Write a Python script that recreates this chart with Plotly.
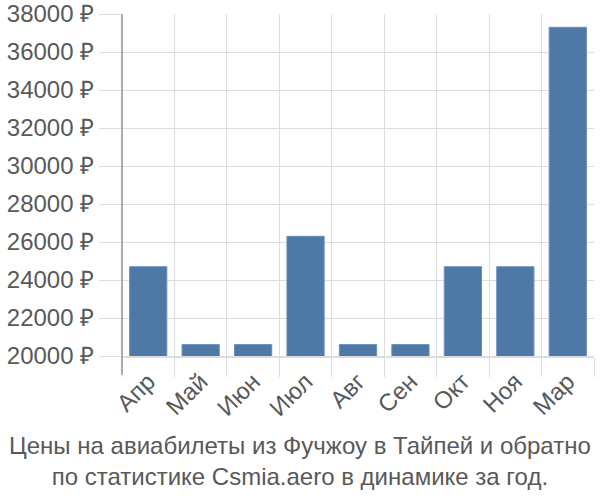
import plotly.graph_objects as go

months = ["Апр", "Май", "Июн", "Июл", "Авг", "Сен", "Окт", "Ноя", "Мар"]
prices = [24700, 20600, 20600, 26300, 20600, 20600, 24700, 24700, 37300]
y_ticks = list(range(20000, 38001, 2000))
y_labels = [f"{v} ₽" for v in y_ticks]
title_lines = ["Цены на авиабилеты из Фучжоу в Тайпей и обратно",
               "по статистике Csmia.aero в динамике за год."]

grey_text = "#595959"
grid = "#dddddd"
axis_line = "#aaaaaa"
fs = 24

fig = go.Figure(go.Bar(x=months, y=prices, marker=dict(color="#4e79a7",
                 line=dict(color="#6a8fbb", width=1)), width=0.71))

fig.update_layout(
    width=600, height=500,
    margin=dict(l=122, r=6, t=14, b=144, autoexpand=False),
    plot_bgcolor="white", paper_bgcolor="white",
    font=dict(family="Liberation Sans, Arial, sans-serif", size=fs, color=grey_text),
    showlegend=False,
    bargap=0.29,
)
fig.update_yaxes(range=[20000, 38000], tickvals=y_ticks, ticktext=y_labels,
                 showgrid=True, gridcolor=grid, gridwidth=1, automargin=False,
                 ticks="outside", ticklen=22, tickcolor=grid,
                 showline=False, zeroline=False, tickfont=dict(size=fs, color=grey_text))
fig.update_xaxes(type="category", tickson="boundaries", showgrid=True, gridcolor=grid,
                 ticks="outside", ticklen=19, tickcolor=grid, tickangle=-45, automargin=False,
                 showline=True, linecolor=grid, linewidth=2,
                 tickfont=dict(size=fs, color=grey_text))
# left axis line (darker)
fig.add_shape(type="line", xref="paper", yref="paper", x0=0, x1=0, y0=-0.055, y1=1,
              line=dict(color=axis_line, width=2))

fig.add_annotation(text="<br>".join(title_lines), xref="paper", yref="paper",
                   x=(300 - 122) / 472, xanchor="center", y=0, yanchor="top", yshift=-74,
                   showarrow=False, font=dict(size=fs, color=grey_text))

fig.write_html("out.html")
